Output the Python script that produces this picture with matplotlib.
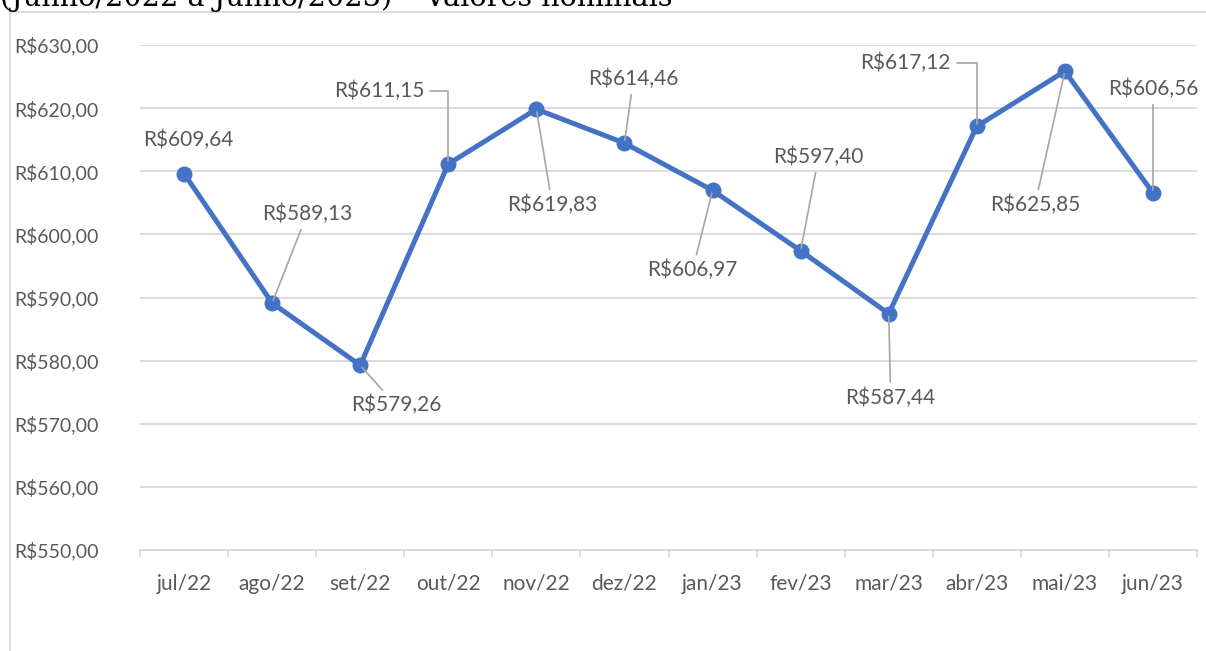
import numpy as np
import matplotlib.pyplot as plt
from matplotlib.lines import Line2D

# DATA
months = ['jul/22', 'ago/22', 'set/22', 'out/22', 'nov/22', 'dez/22',
          'jan/23', 'fev/23', 'mar/23', 'abr/23', 'mai/23', 'jun/23']
values = [609.64, 589.13, 579.26, 611.15, 619.83, 614.46,
          606.97, 597.40, 587.44, 617.12, 625.85, 606.56]
yticks = [550, 560, 570, 580, 590, 600, 610, 620, 630]
title = '(Junho/2022 a Junho/2023) – Valores nominais'

# label offsets in pixels (dx right, dy up) and leader style
label_offsets = [(4, 34), (35, 89), (36, -40), (-69, 73), (16, -96), (9, 64),
                 (-20, -80), (18, 94), (2, -84), (-71, 63), (-30, -134), (0, 104)]
elbow = [False, False, False, True, False, False,
         False, False, False, True, False, False]

BLUE = '#4472C4'
TXT = '#595959'
GRID = '#D9D9D9'
LEADER = '#A6A6A6'
FONT = 'Lato'
FS = 15

def brl(v):
    return 'R$' + f'{v:.2f}'.replace('.', ',')

fig = plt.figure(figsize=(12.06, 6.51), dpi=100)
ax = fig.add_axes([140/1206, 1-550/651, (1197-140)/1206, (550-45)/651])

x = np.arange(len(months))
ax.plot(x, values, color=BLUE, lw=3.6, marker='o', ms=10.5, zorder=3,
        solid_capstyle='round', solid_joinstyle='round')

ax.set_xlim(-0.5, len(months) - 0.5)
ax.set_ylim(yticks[0], yticks[-1])
ax.set_yticks(yticks)
ax.set_yticklabels([brl(v) for v in yticks])
ax.set_xticks(x)
ax.set_xticklabels(months)
ax.set_xticks(np.arange(len(months) + 1) - 0.5, minor=True)

ax.grid(axis='y', color=GRID, lw=1.3)
ax.set_axisbelow(True)
for s in ['top', 'right', 'left']:
    ax.spines[s].set_visible(False)
ax.spines['bottom'].set_color(GRID)
ax.spines['bottom'].set_linewidth(1.3)
ax.tick_params(axis='y', length=0, pad=30, labelsize=14, labelcolor=TXT)
ax.tick_params(axis='x', which='major', length=0, pad=17, labelsize=FS, labelcolor=TXT)
ax.tick_params(axis='x', which='minor', length=5, width=1.3, color=GRID, direction='out')
for lbl in ax.get_xticklabels() + ax.get_yticklabels():
    lbl.set_fontfamily(FONT)

# data labels with leader lines
for i, v in enumerate(values):
    dx, dy = label_offsets[i]
    far = np.hypot(dx, dy) > 45
    props = None
    if far:
        props = dict(arrowstyle='-', color=LEADER, lw=1.2, shrinkA=2, shrinkB=2)
        if elbow[i]:
            props['connectionstyle'] = 'angle,angleA=0,angleB=90,rad=0'
            props['relpos'] = (1.0, 0.5)
    ax.annotate(brl(v), (i, v), xytext=(dx, dy), textcoords='offset pixels',
                ha='center', va='center', fontsize=FS, color=TXT,
                fontfamily=FONT, arrowprops=props, zorder=4)

# chart frame (extends past the figure edges)
fig.add_artist(Line2D([10/1206, 10/1206], [0, 1-12/651], color=GRID, lw=1.3))
fig.add_artist(Line2D([10/1206, 1], [1-12/651, 1-12/651], color=GRID, lw=1.3))

# cut-off title above the chart
fig.text(0, 1-6/651, title, fontsize=20.7, fontfamily='DejaVu Serif',
         color='black', va='baseline', ha='left')

fig.savefig('out.png', dpi=100)
